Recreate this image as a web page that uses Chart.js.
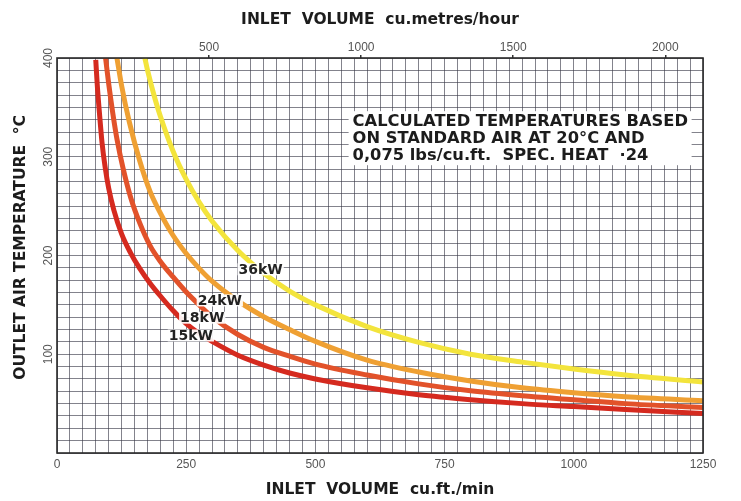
<!DOCTYPE html>
<html><head><meta charset="utf-8">
<script src="https://cdn.jsdelivr.net/npm/chart.js@4"></script>
<style>html,body{margin:0;padding:0;background:#fff;}#wrap{width:741px;height:501px;position:relative;}</style>
</head><body><div id="wrap"><canvas id="c"></canvas></div>
<script>
// ---- data ----
const seriesNames = ['15kW', '18kW', '24kW', '36kW'];
const cfm15  = [75, 78, 82, 87, 93, 100, 110, 125, 142, 160, 180, 200, 225, 250, 275, 300, 350, 400, 450, 500, 600, 700, 800, 900, 1000, 1100, 1250];
const temp15 = [398, 372, 345, 315, 290, 268, 246, 222, 203, 187, 172, 159, 144, 131, 121, 113, 99, 89, 81, 75, 66, 59, 54, 50, 47, 44, 40];
const cfm18  = [94, 100, 108, 116, 128, 143, 160, 180, 200, 225, 250, 275, 300, 350, 400, 450, 500, 600, 700, 800, 900, 1000, 1100, 1250];
const temp18 = [400, 374, 344, 318, 288, 258, 233, 210, 194, 178, 163, 150, 138, 120, 107, 98, 90, 79, 70, 63, 58, 54, 50, 46];
const cfm24  = [116, 125, 140, 160, 180, 200, 225, 250, 275, 300, 350, 400, 450, 500, 600, 700, 800, 900, 1000, 1100, 1250];
const temp24 = [400, 372, 335, 296, 265, 243, 220, 202, 187, 174, 154, 138, 125, 113, 94, 82, 73, 66, 61, 57, 53];
const cfm36  = [170, 175, 190, 200, 225, 250, 275, 300, 350, 400, 450, 500, 600, 700, 800, 900, 1000, 1100, 1250];
const temp36 = [400, 388, 358, 341, 305, 277, 254, 235, 205, 182, 164, 150, 128, 112, 100, 92, 85, 79, 72];

const xTickLabels = [0, 250, 500, 750, 1000, 1250];     // cu.ft./min
const yTickLabels = [100, 200, 300, 400];                // °C
const topTickLabels = [500, 1000, 1500, 2000];           // cu.metres/hour
const topAxisMax = 2124;                                 // 1250 cu.ft./min in m3/h
const noteLines = ['CALCULATED TEMPERATURES BASED', 'ON STANDARD AIR AT 20°C AND', '0,075 lbs/cu.ft.  SPEC. HEAT  ·24'];

// ---- presentation ----
const colors = ['#d52a1f', '#e2522a', '#efa033', '#f3e43c'];
const curveLabelAt = [[259, 119], [281, 137], [315, 154.5], [394, 186]]; // data coords of label centres
const notePos = [572, 335];

function pts(xs, ys) { return xs.map((v, i) => ({x: v, y: ys[i]})); }
const seriesData = [pts(cfm15, temp15), pts(cfm18, temp18), pts(cfm24, temp24), pts(cfm36, temp36)];

const deco = {
  id: 'deco',
  beforeDatasetsDraw(chart) {
    const {ctx, scales: {x, y}} = chart;
    ctx.save();
    const nx = x.getPixelForValue(notePos[0]);
    const ny = y.getPixelForValue(notePos[1]);
    ctx.fillStyle = '#fff';
    ctx.fillRect(nx - 4, ny - 11, 343, 54);
    ctx.fillStyle = '#1c1c1c';
    ctx.font = 'bold 16.3px "DejaVu Sans"';
    ctx.textBaseline = 'middle';
    ctx.textAlign = 'left';
    noteLines.forEach((t, i) => ctx.fillText(t, nx, ny + i * 17));
    ctx.restore();
  },
  afterDatasetsDraw(chart) {
    const {ctx, scales: {x, y}} = chart;
    ctx.save();
    ctx.font = 'bold 14px "DejaVu Sans"';
    ctx.textAlign = 'center';
    ctx.textBaseline = 'middle';
    seriesNames.forEach((n, i) => {
      const px = x.getPixelForValue(curveLabelAt[i][0]);
      const py = y.getPixelForValue(curveLabelAt[i][1]);
      const w = ctx.measureText(n).width;
      ctx.fillStyle = 'rgba(255,255,255,0.92)';
      ctx.fillRect(px - w / 2 - 1, py - 6, w + 2, 12);
      ctx.fillStyle = '#222';
      ctx.fillText(n, px, py + 1);
    });
    ctx.restore();
  },
  afterDraw(chart) {
    const {ctx, chartArea: a, scales: {y}} = chart;
    ctx.save();
    ctx.strokeStyle = '#2a2a2a';
    ctx.lineWidth = 1.6;
    ctx.strokeRect(a.left, a.top, a.right - a.left, a.bottom - a.top);
    ctx.fillStyle = '#555';
    ctx.font = '12px "Liberation Sans"';
    ctx.textAlign = 'center';
    ctx.textBaseline = 'middle';
    yTickLabels.forEach(v => {
      ctx.save();
      ctx.translate(a.left - 8, y.getPixelForValue(v));
      ctx.rotate(-Math.PI / 2);
      ctx.fillText(String(v), 0, 0);
      ctx.restore();
    });
    ctx.restore();
  }
};

const gridCol = 'rgba(55,55,70,0.62)';
const titleFont = {family: 'DejaVu Sans', size: 15.5, weight: 'bold'};
new Chart(document.getElementById('c'), {
  type: 'line',
  data: {
    datasets: seriesData.map((d, i) => ({
      label: seriesNames[i], data: d, borderColor: colors[i], backgroundColor: colors[i],
      borderWidth: 5, pointRadius: 0, fill: false, cubicInterpolationMode: 'monotone', xAxisID: 'x', yAxisID: 'y'
    })).reverse()
  },
  options: {
    responsive: true, maintainAspectRatio: false, animation: false,
    layout: {padding: {left: 0, right: 38, top: 0, bottom: 0}},
    plugins: {legend: {display: false}, tooltip: {enabled: false}},
    scales: {
      x: {
        type: 'linear', position: 'bottom', min: 0, max: 1250,
        afterFit: s => { s.height = 48; },
        ticks: {stepSize: 25, autoSkip: false, maxRotation: 0, padding: 4, color: '#555',
          font: {family: 'Liberation Sans', size: 12},
          callback: v => xTickLabels.includes(v) ? String(v) : ''},
        grid: {color: gridCol, lineWidth: 1, drawTicks: false},
        border: {display: false},
        title: {display: true, text: 'INLET  VOLUME  cu.ft./min', color: '#1c1c1c',
          font: titleFont, padding: {top: 0, bottom: 2}}
      },
      x2: {
        type: 'linear', axis: 'x', position: 'top', min: 0, max: topAxisMax,
        afterFit: s => { s.height = 58; },
        afterBuildTicks: s => { s.ticks = topTickLabels.map(v => ({value: v})); },
        ticks: {color: '#555', padding: 0, font: {family: 'Liberation Sans', size: 12}, callback: v => String(v)},
        grid: {display: true, drawOnChartArea: false, drawTicks: true, tickLength: 3, color: '#333', lineWidth: 1.5},
        border: {display: false},
        title: {display: true, text: 'INLET  VOLUME  cu.metres/hour', color: '#1c1c1c',
          font: titleFont, padding: {top: 11, bottom: 0}}
      },
      y: {
        type: 'linear', position: 'left', min: 0, max: 400,
        afterFit: s => { s.width = 57; },
        ticks: {stepSize: 12.5, display: false},
        grid: {color: gridCol, lineWidth: 1, drawTicks: false},
        border: {display: false},
        title: {display: true, text: '   OUTLET AIR TEMPERATURE  °C', color: '#1c1c1c',
          font: titleFont, padding: {top: 12, bottom: 0}}
      }
    }
  },
  plugins: [deco]
});
</script>
</body></html>
